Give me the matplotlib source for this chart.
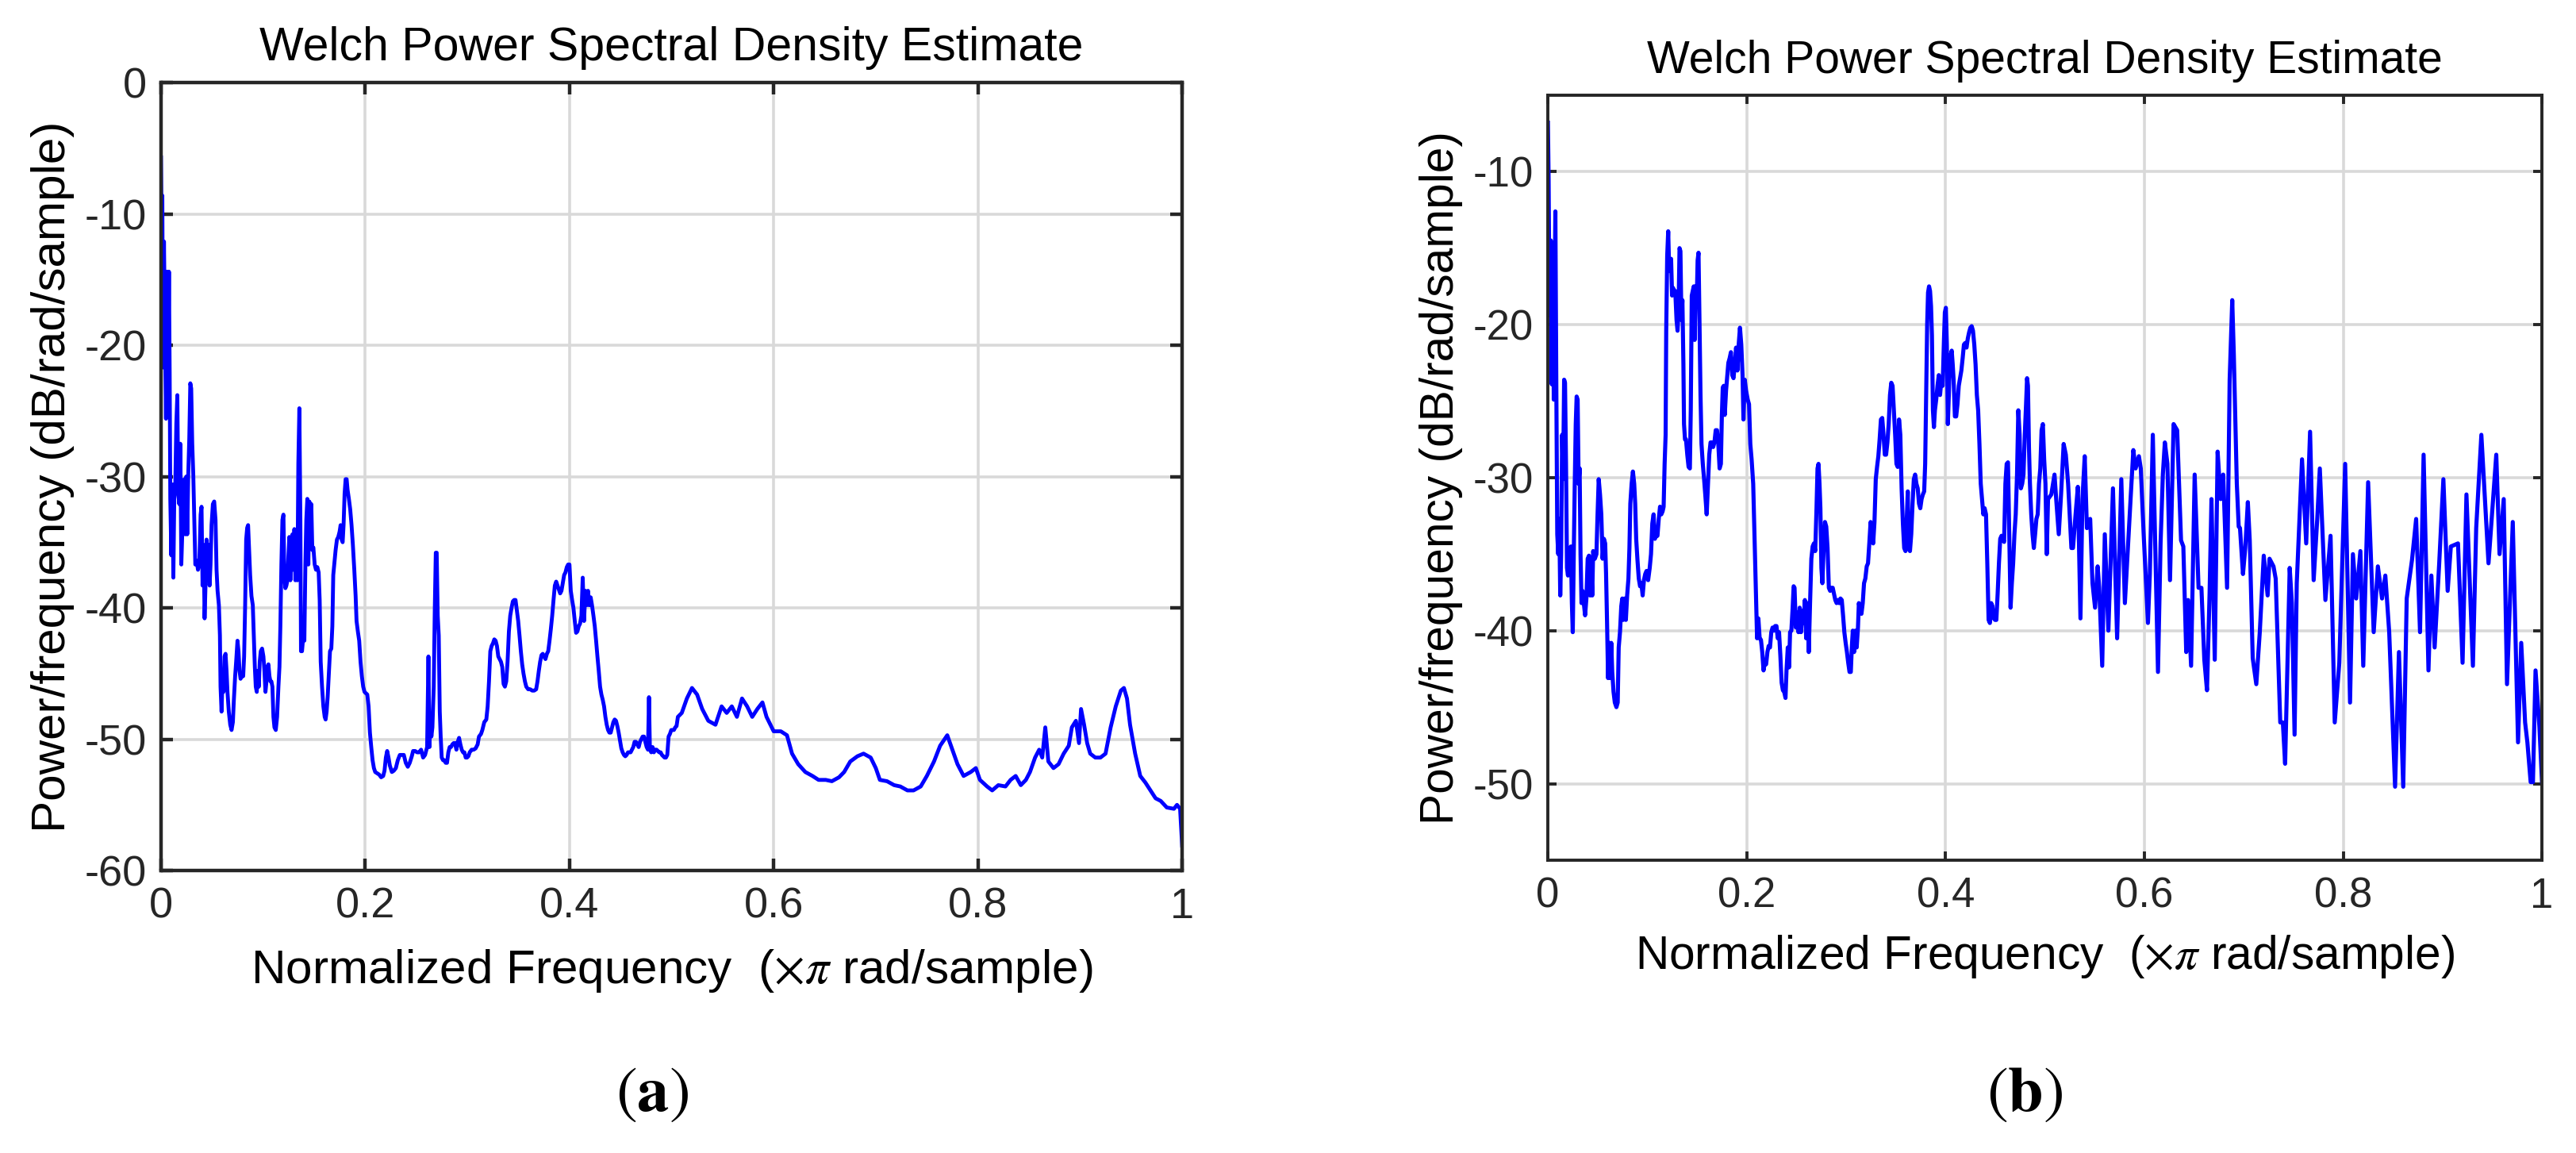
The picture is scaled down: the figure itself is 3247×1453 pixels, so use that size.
import matplotlib
matplotlib.use("Agg")
import matplotlib.pyplot as plt

plt.rcParams["font.family"] = ["Liberation Sans", "DejaVu Sans"]
plt.rcParams["mathtext.fontset"] = "stix"
plt.rcParams["axes.unicode_minus"] = False

# -----------------------------
# Data (normalized freq, dB/rad/sample)
# -----------------------------
trace_a = [
    (0.0000, -5.7), (0.0007, -12.1), (0.0013, -8.6), (0.0020, -21.7), (0.0029, -12.1), (0.0039, -19.0),
    (0.0049, -25.6), (0.0059, -14.4), (0.0068, -23.6), (0.0078, -14.4), (0.0085, -22.1), (0.0091, -31.7),
    (0.0101, -36.0), (0.0111, -30.6), (0.0121, -37.7), (0.0130, -31.7), (0.0140, -30.6), (0.0150, -26.0),
    (0.0160, -23.8), (0.0169, -31.3), (0.0179, -32.1), (0.0189, -27.5), (0.0199, -36.7), (0.0208, -34.4),
    (0.0218, -31.3), (0.0228, -30.2), (0.0238, -34.4), (0.0248, -30.0), (0.0257, -34.4), (0.0267, -29.8),
    (0.0277, -27.1), (0.0287, -22.9), (0.0296, -23.3), (0.0306, -27.5), (0.0316, -29.8), (0.0326, -33.3),
    (0.0336, -36.7), (0.0349, -36.4), (0.0362, -37.1), (0.0375, -36.7), (0.0388, -32.9), (0.0397, -32.3),
    (0.0407, -38.3), (0.0417, -35.2), (0.0427, -40.8), (0.0436, -38.3), (0.0446, -34.8), (0.0456, -37.9),
    (0.0466, -35.2), (0.0476, -38.3), (0.0485, -36.7), (0.0495, -33.7), (0.0508, -32.1), (0.0521, -31.9),
    (0.0534, -33.3), (0.0544, -37.1), (0.0554, -38.7), (0.0567, -39.8), (0.0577, -42.1), (0.0583, -46.0),
    (0.0593, -47.9), (0.0603, -45.2), (0.0612, -46.4), (0.0622, -43.7), (0.0632, -43.5), (0.0642, -44.8),
    (0.0651, -46.4), (0.0664, -47.9), (0.0678, -48.9), (0.0691, -49.3), (0.0704, -48.7), (0.0713, -47.1),
    (0.0726, -45.2), (0.0736, -44.1), (0.0749, -42.5), (0.0759, -43.3), (0.0769, -44.8), (0.0779, -45.4),
    (0.0792, -45.2), (0.0805, -45.2), (0.0814, -43.7), (0.0824, -39.8), (0.0834, -34.8), (0.0844, -33.9),
    (0.0853, -33.7), (0.0863, -35.6), (0.0873, -37.5), (0.0886, -39.1), (0.0899, -39.8), (0.0909, -42.1),
    (0.0919, -44.5), (0.0928, -46.0), (0.0938, -46.4), (0.0948, -44.8), (0.0958, -46.0), (0.0967, -44.1),
    (0.0977, -43.3), (0.0990, -43.1), (0.1003, -43.7), (0.1013, -44.8), (0.1023, -46.4), (0.1033, -45.6),
    (0.1042, -44.5), (0.1052, -44.3), (0.1062, -45.2), (0.1072, -45.6), (0.1081, -45.6), (0.1091, -46.0),
    (0.1101, -48.3), (0.1111, -49.1), (0.1124, -49.3), (0.1137, -48.3), (0.1150, -46.0), (0.1160, -44.5),
    (0.1169, -41.4), (0.1179, -36.7), (0.1189, -33.3), (0.1199, -32.9), (0.1208, -37.5), (0.1218, -38.5),
    (0.1228, -38.3), (0.1238, -37.9), (0.1248, -36.0), (0.1257, -34.6), (0.1267, -37.9), (0.1277, -35.2),
    (0.1287, -34.4), (0.1296, -37.1), (0.1306, -34.0), (0.1316, -37.9), (0.1326, -34.4), (0.1336, -37.9),
    (0.1345, -29.0), (0.1355, -24.8), (0.1365, -33.3), (0.1371, -43.3), (0.1381, -43.3), (0.1394, -42.1),
    (0.1404, -42.5), (0.1414, -36.7), (0.1423, -33.3), (0.1433, -31.7), (0.1443, -36.7), (0.1453, -31.9),
    (0.1463, -34.4), (0.1472, -32.1), (0.1482, -35.6), (0.1492, -35.4), (0.1505, -36.7), (0.1518, -37.1),
    (0.1531, -36.9), (0.1544, -37.3), (0.1554, -39.4), (0.1564, -44.1), (0.1577, -46.0), (0.1590, -47.5),
    (0.1603, -48.3), (0.1612, -48.5), (0.1622, -47.9), (0.1632, -46.8), (0.1645, -44.8), (0.1655, -43.3),
    (0.1668, -43.1), (0.1678, -41.4), (0.1687, -37.5), (0.1697, -36.7), (0.1710, -35.6), (0.1723, -34.8),
    (0.1736, -34.6), (0.1749, -34.2), (0.1759, -33.7), (0.1769, -34.8), (0.1779, -35.0), (0.1788, -33.7),
    (0.1798, -31.3), (0.1808, -30.2), (0.1818, -30.2), (0.1827, -31.0), (0.1840, -31.7), (0.1853, -32.5),
    (0.1866, -33.7), (0.1879, -35.2), (0.1893, -37.1), (0.1906, -39.1), (0.1915, -41.0), (0.1928, -41.8),
    (0.1941, -42.5), (0.1954, -44.1), (0.1967, -45.2), (0.1980, -46.0), (0.1993, -46.4), (0.2007, -46.5),
    (0.2020, -46.6), (0.2033, -47.5), (0.2046, -49.5), (0.2059, -50.6), (0.2072, -51.6), (0.2085, -52.2),
    (0.2098, -52.5), (0.2117, -52.6), (0.2137, -52.7), (0.2156, -52.9), (0.2176, -52.8), (0.2189, -52.4),
    (0.2202, -51.4), (0.2215, -50.9), (0.2228, -51.4), (0.2241, -52.0), (0.2261, -52.5), (0.2280, -52.4),
    (0.2300, -52.2), (0.2319, -51.6), (0.2339, -51.2), (0.2358, -51.2), (0.2378, -51.2), (0.2397, -51.8),
    (0.2417, -52.1), (0.2436, -51.8), (0.2456, -51.3), (0.2469, -50.9), (0.2489, -50.9), (0.2508, -51.0),
    (0.2528, -51.0), (0.2547, -50.8), (0.2567, -51.4), (0.2586, -51.2), (0.2606, -50.6), (0.2619, -43.7),
    (0.2629, -50.6), (0.2638, -48.3), (0.2648, -49.8), (0.2658, -49.1), (0.2671, -46.0), (0.2681, -40.2),
    (0.2691, -35.8), (0.2700, -35.8), (0.2710, -40.6), (0.2720, -42.1), (0.2730, -47.9), (0.2739, -49.8),
    (0.2749, -51.4), (0.2762, -51.6), (0.2775, -51.6), (0.2788, -51.8), (0.2801, -51.8), (0.2814, -51.0),
    (0.2827, -50.6), (0.2840, -50.6), (0.2853, -50.4), (0.2866, -50.3), (0.2879, -50.3), (0.2893, -50.8),
    (0.2906, -50.2), (0.2919, -49.9), (0.2932, -50.4), (0.2945, -50.8), (0.2958, -51.0), (0.2971, -51.0),
    (0.2984, -51.4), (0.2997, -51.4), (0.3010, -51.3), (0.3023, -51.0), (0.3042, -50.8), (0.3062, -50.8),
    (0.3081, -50.7), (0.3101, -50.4), (0.3114, -49.8), (0.3134, -49.6), (0.3147, -49.3), (0.3166, -48.7),
    (0.3186, -48.5), (0.3199, -47.5), (0.3212, -45.6), (0.3225, -43.3), (0.3238, -42.9), (0.3251, -42.7),
    (0.3264, -42.4), (0.3277, -42.5), (0.3290, -42.9), (0.3303, -43.7), (0.3316, -43.9), (0.3329, -44.1),
    (0.3342, -44.5), (0.3355, -45.8), (0.3368, -46.0), (0.3381, -45.6), (0.3394, -44.1), (0.3407, -41.8),
    (0.3420, -40.6), (0.3433, -40.0), (0.3446, -39.5), (0.3459, -39.4), (0.3472, -39.4), (0.3485, -40.2),
    (0.3498, -41.0), (0.3511, -42.1), (0.3524, -43.3), (0.3537, -44.3), (0.3550, -45.0), (0.3564, -45.6),
    (0.3577, -46.0), (0.3596, -46.2), (0.3616, -46.2), (0.3635, -46.3), (0.3655, -46.3), (0.3674, -46.2),
    (0.3687, -45.6), (0.3700, -44.8), (0.3713, -44.1), (0.3726, -43.6), (0.3739, -43.5), (0.3752, -43.7),
    (0.3765, -43.9), (0.3779, -43.5), (0.3792, -43.3), (0.3805, -42.5), (0.3818, -41.6), (0.3831, -40.6),
    (0.3844, -39.4), (0.3857, -38.3), (0.3870, -38.0), (0.3883, -38.3), (0.3896, -38.6), (0.3909, -38.9),
    (0.3922, -38.7), (0.3935, -38.1), (0.3948, -37.5), (0.3961, -37.3), (0.3974, -36.9), (0.3987, -36.7),
    (0.4000, -36.7), (0.4013, -38.7), (0.4026, -39.4), (0.4039, -40.0), (0.4052, -41.0), (0.4065, -41.9),
    (0.4078, -41.8), (0.4091, -41.4), (0.4104, -41.2), (0.4117, -40.6), (0.4130, -37.7), (0.4143, -41.0),
    (0.4156, -38.7), (0.4169, -39.8), (0.4182, -38.7), (0.4195, -39.8), (0.4208, -39.2), (0.4221, -39.8),
    (0.4235, -40.6), (0.4248, -41.4), (0.4261, -42.5), (0.4274, -43.7), (0.4287, -44.8), (0.4300, -46.0),
    (0.4313, -46.6), (0.4326, -47.0), (0.4339, -47.5), (0.4352, -48.3), (0.4365, -48.9), (0.4378, -49.3),
    (0.4391, -49.5), (0.4404, -49.5), (0.4417, -49.1), (0.4430, -48.7), (0.4443, -48.5), (0.4456, -48.6),
    (0.4469, -49.0), (0.4482, -49.5), (0.4495, -50.1), (0.4508, -50.7), (0.4521, -51.0), (0.4534, -51.2),
    (0.4547, -51.3), (0.4560, -51.2), (0.4573, -51.0), (0.4586, -51.0), (0.4599, -51.0), (0.4612, -50.8),
    (0.4625, -50.6), (0.4638, -50.2), (0.4651, -50.2), (0.4664, -50.4), (0.4678, -50.6), (0.4691, -50.2),
    (0.4704, -50.0), (0.4717, -49.8), (0.4730, -49.8), (0.4743, -50.2), (0.4756, -50.6), (0.4769, -50.8),
    (0.4779, -46.8), (0.4788, -50.8), (0.4801, -51.0), (0.4814, -50.6), (0.4827, -51.0), (0.4840, -50.8),
    (0.4853, -50.8), (0.4866, -50.9), (0.4879, -51.0), (0.4893, -51.0), (0.4906, -51.2), (0.4919, -51.3),
    (0.4932, -51.4), (0.4945, -51.4), (0.4958, -51.2), (0.4971, -49.8), (0.4984, -49.6), (0.4997, -49.3),
    (0.5010, -49.3), (0.5023, -49.3), (0.5036, -49.1), (0.5049, -49.0), (0.5062, -48.3), (0.510, -48.0),
    (0.515, -46.9), (0.520, -46.1), (0.525, -46.6), (0.530, -47.7), (0.536, -48.6), (0.543, -48.9),
    (0.549, -47.5), (0.554, -48.0), (0.559, -47.5), (0.564, -48.3), (0.569, -46.9), (0.574, -47.5),
    (0.579, -48.3), (0.584, -47.7), (0.589, -47.2), (0.593, -48.3), (0.600, -49.4), (0.607, -49.4),
    (0.613, -49.7), (0.618, -51.1), (0.624, -51.9), (0.631, -52.5), (0.638, -52.8), (0.644, -53.1),
    (0.651, -53.1), (0.657, -53.2), (0.664, -52.9), (0.669, -52.5), (0.675, -51.7), (0.682, -51.3),
    (0.688, -51.1), (0.695, -51.4), (0.700, -52.2), (0.704, -53.1), (0.711, -53.2), (0.718, -53.5),
    (0.724, -53.6), (0.731, -53.9), (0.737, -53.9), (0.744, -53.6), (0.750, -52.8), (0.757, -51.7),
    (0.763, -50.5), (0.770, -49.7), (0.775, -50.8), (0.780, -51.9), (0.786, -52.8), (0.793, -52.5),
    (0.798, -52.2), (0.802, -53.1), (0.809, -53.6), (0.814, -53.9), (0.820, -53.5), (0.827, -53.6),
    (0.832, -53.1), (0.837, -52.8), (0.842, -53.5), (0.847, -53.1), (0.851, -52.5), (0.856, -51.4),
    (0.860, -50.8), (0.863, -51.4), (0.866, -49.1), (0.869, -51.7), (0.874, -52.2), (0.879, -51.9),
    (0.884, -51.1), (0.889, -50.5), (0.892, -49.1), (0.896, -48.6), (0.899, -50.3), (0.901, -47.7),
    (0.904, -48.9), (0.907, -50.3), (0.910, -51.1), (0.915, -51.4), (0.920, -51.4), (0.925, -51.1),
    (0.930, -49.1), (0.935, -47.5), (0.940, -46.3), (0.943, -46.1), (0.946, -46.9), (0.949, -48.9),
    (0.954, -51.1), (0.959, -52.8), (0.964, -53.3), (0.969, -53.9), (0.974, -54.5), (0.979, -54.7),
    (0.985, -55.2), (0.992, -55.3), (0.995, -55.0), (0.998, -55.3), (1.000, -58.1),
]

trace_b = [
    (0.0000, -6.8), (0.0007, -10.6), (0.0016, -19.4), (0.0029, -14.5), (0.0039, -23.9), (0.0049, -14.9),
    (0.0059, -24.9), (0.0068, -17.5), (0.0075, -12.6), (0.0085, -24.6), (0.0094, -33.7), (0.0104, -35.0),
    (0.0114, -32.7), (0.0124, -37.7), (0.0133, -35.0), (0.0143, -27.2), (0.0153, -30.1), (0.0163, -23.6),
    (0.0172, -23.8), (0.0182, -29.1), (0.0192, -35.9), (0.0202, -36.4), (0.0211, -34.6), (0.0221, -36.3),
    (0.0231, -34.5), (0.0241, -38.2), (0.0250, -40.1), (0.0260, -35.0), (0.0270, -30.4), (0.0280, -26.5),
    (0.0289, -24.7), (0.0299, -24.9), (0.0309, -30.4), (0.0319, -29.4), (0.0328, -35.0), (0.0338, -38.2),
    (0.0348, -37.4), (0.0361, -38.2), (0.0374, -39.0), (0.0387, -37.9), (0.0400, -35.3), (0.0413, -35.1),
    (0.0423, -37.7), (0.0433, -35.3), (0.0446, -37.7), (0.0455, -34.8), (0.0472, -35.3), (0.0488, -35.0),
    (0.0498, -32.7), (0.0511, -30.1), (0.0524, -31.1), (0.0537, -32.4), (0.0550, -35.3), (0.0563, -34.0),
    (0.0576, -34.3), (0.0585, -36.3), (0.0595, -39.5), (0.0605, -43.1), (0.0615, -40.8), (0.0628, -43.1),
    (0.0637, -40.8), (0.0647, -42.7), (0.0660, -44.0), (0.0673, -44.7), (0.0689, -45.0), (0.0702, -44.7),
    (0.0712, -41.1), (0.0725, -40.1), (0.0738, -38.4), (0.0748, -37.9), (0.0758, -39.3), (0.0771, -37.9),
    (0.0784, -39.3), (0.0797, -37.7), (0.0810, -36.6), (0.0820, -34.6), (0.0829, -31.7), (0.0842, -30.4),
    (0.0855, -29.6), (0.0868, -30.4), (0.0878, -31.7), (0.0888, -34.0), (0.0901, -35.4), (0.0914, -36.6),
    (0.0927, -37.1), (0.0940, -36.9), (0.0953, -37.7), (0.0966, -36.7), (0.0979, -36.3), (0.0992, -36.1),
    (0.1008, -36.7), (0.1024, -35.9), (0.1037, -35.0), (0.1050, -33.0), (0.1063, -32.4), (0.1076, -34.0),
    (0.1089, -33.8), (0.1102, -33.8), (0.1115, -32.7), (0.1128, -31.9), (0.1141, -32.4), (0.1154, -32.2),
    (0.1164, -31.9), (0.1174, -29.1), (0.1184, -27.2), (0.1190, -20.4), (0.1200, -15.5), (0.1210, -13.9),
    (0.1220, -16.5), (0.1229, -15.8), (0.1239, -15.7), (0.1249, -18.1), (0.1259, -17.6), (0.1268, -17.8),
    (0.1281, -17.8), (0.1294, -19.7), (0.1304, -20.4), (0.1314, -19.1), (0.1324, -15.0), (0.1333, -15.2),
    (0.1343, -19.7), (0.1353, -18.4), (0.1363, -22.6), (0.1369, -26.5), (0.1379, -27.5), (0.1389, -27.5),
    (0.1402, -28.5), (0.1415, -29.3), (0.1428, -29.4), (0.1437, -25.6), (0.1447, -18.1), (0.1457, -17.8),
    (0.1467, -17.5), (0.1476, -21.0), (0.1486, -17.5), (0.1496, -18.8), (0.1506, -15.8), (0.1515, -15.3),
    (0.1525, -20.0), (0.1535, -24.6), (0.1545, -27.8), (0.1558, -29.1), (0.1571, -30.1), (0.1584, -31.2),
    (0.1597, -32.4), (0.1610, -30.4), (0.1623, -28.5), (0.1636, -27.7), (0.1649, -27.7), (0.1662, -28.0),
    (0.1675, -27.7), (0.1688, -26.9), (0.1701, -26.9), (0.1714, -27.8), (0.1727, -29.4), (0.1740, -29.1),
    (0.1750, -25.9), (0.1759, -24.1), (0.1769, -24.0), (0.1779, -25.9), (0.1792, -24.3), (0.1805, -23.3),
    (0.1815, -22.5), (0.1828, -22.2), (0.1841, -21.8), (0.1854, -23.3), (0.1867, -23.5), (0.1880, -22.6),
    (0.1893, -21.5), (0.1906, -23.0), (0.1919, -21.3), (0.1932, -20.2), (0.1945, -21.3), (0.1958, -23.3),
    (0.1967, -26.2), (0.1980, -23.6), (0.1993, -24.3), (0.2010, -24.9), (0.2023, -25.2), (0.2036, -27.8),
    (0.2049, -28.8), (0.2065, -30.4), (0.2078, -33.7), (0.2091, -36.9), (0.2104, -40.5), (0.2117, -39.2),
    (0.2130, -40.5), (0.2143, -40.6), (0.2156, -41.4), (0.2169, -42.6), (0.2182, -42.1), (0.2195, -42.2),
    (0.2208, -41.4), (0.2221, -41.0), (0.2234, -41.1), (0.2247, -40.1), (0.2260, -39.8), (0.2273, -40.0),
    (0.2286, -39.7), (0.2299, -39.7), (0.2312, -40.5), (0.2325, -40.1), (0.2338, -41.6), (0.2351, -43.4),
    (0.2364, -43.9), (0.2377, -44.0), (0.2390, -44.4), (0.2400, -42.6), (0.2413, -41.1), (0.2426, -42.4),
    (0.2436, -40.1), (0.2449, -40.0), (0.2462, -38.5), (0.2472, -37.1), (0.2481, -37.2), (0.2494, -39.8),
    (0.2507, -38.8), (0.2520, -40.1), (0.2533, -38.5), (0.2546, -40.1), (0.2559, -38.7), (0.2572, -39.5),
    (0.2585, -38.0), (0.2598, -40.5), (0.2611, -38.2), (0.2624, -41.4), (0.2637, -38.2), (0.2650, -35.3),
    (0.2663, -34.5), (0.2676, -34.3), (0.2689, -34.8), (0.2702, -32.0), (0.2712, -29.4), (0.2722, -29.1),
    (0.2732, -30.4), (0.2741, -32.0), (0.2751, -35.9), (0.2761, -36.9), (0.2774, -34.6), (0.2787, -32.9),
    (0.2800, -33.2), (0.2813, -34.6), (0.2826, -37.2), (0.2839, -37.4), (0.2852, -37.2), (0.2865, -37.2),
    (0.2878, -37.6), (0.2891, -38.0), (0.2904, -38.2), (0.2917, -38.0), (0.2930, -38.2), (0.2943, -37.9),
    (0.2956, -38.0), (0.2969, -39.0), (0.2982, -40.1), (0.2995, -40.8), (0.3008, -41.4), (0.3021, -42.1),
    (0.3034, -42.7), (0.3047, -42.7), (0.3057, -41.1), (0.3067, -40.0), (0.3080, -41.4), (0.3093, -40.0),
    (0.3106, -41.1), (0.3119, -39.8), (0.3128, -38.2), (0.3141, -38.7), (0.3154, -38.9), (0.3167, -38.2),
    (0.3180, -36.9), (0.3193, -36.6), (0.3207, -35.8), (0.3220, -35.6), (0.3233, -34.3), (0.3246, -32.9),
    (0.3259, -33.8), (0.3272, -34.3), (0.3285, -32.9), (0.3298, -30.1), (0.3311, -29.3), (0.3324, -28.6),
    (0.3337, -27.5), (0.3350, -26.2), (0.3363, -26.1), (0.3376, -27.2), (0.3389, -28.5), (0.3402, -28.5),
    (0.3415, -27.7), (0.3428, -26.5), (0.3441, -24.6), (0.3454, -23.8), (0.3467, -24.0), (0.3480, -25.6),
    (0.3493, -27.2), (0.3506, -29.1), (0.3519, -29.3), (0.3532, -26.2), (0.3545, -27.2), (0.3558, -30.7),
    (0.3571, -33.0), (0.3584, -34.6), (0.3597, -34.8), (0.3610, -32.7), (0.3620, -30.9), (0.3629, -34.6),
    (0.3642, -34.8), (0.3655, -33.7), (0.3668, -31.7), (0.3681, -30.1), (0.3694, -29.8), (0.3707, -30.4),
    (0.3720, -30.7), (0.3733, -31.7), (0.3746, -32.0), (0.3759, -31.4), (0.3772, -31.1), (0.3785, -30.9),
    (0.3795, -29.1), (0.3805, -24.6), (0.3815, -20.0), (0.3824, -17.9), (0.3834, -17.5), (0.3844, -17.8),
    (0.3854, -18.8), (0.3863, -20.7), (0.3873, -25.6), (0.3883, -26.7), (0.3893, -25.6), (0.3906, -24.9),
    (0.3919, -24.0), (0.3932, -23.3), (0.3945, -24.6), (0.3958, -23.6), (0.3971, -24.0), (0.3984, -21.0),
    (0.3993, -19.2), (0.4003, -18.9), (0.4013, -21.3), (0.4023, -26.5), (0.4033, -24.6), (0.4042, -22.6),
    (0.4052, -22.0), (0.4062, -21.7), (0.4072, -22.6), (0.4081, -23.6), (0.4094, -26.0), (0.4107, -26.0),
    (0.4120, -25.2), (0.4133, -24.0), (0.4146, -23.5), (0.4159, -23.0), (0.4172, -22.2), (0.4185, -21.3),
    (0.4198, -21.2), (0.4211, -21.5), (0.4224, -20.9), (0.4237, -20.5), (0.4250, -20.2), (0.4263, -20.1),
    (0.4276, -20.4), (0.4289, -21.3), (0.4302, -22.6), (0.4315, -24.6), (0.4328, -25.6), (0.4341, -27.8),
    (0.4354, -30.4), (0.4367, -31.4), (0.4380, -32.4), (0.4393, -32.0), (0.4407, -32.4), (0.4420, -35.6),
    (0.4433, -39.3), (0.4446, -39.5), (0.4459, -38.2), (0.4472, -38.4), (0.4485, -39.2), (0.4498, -39.3),
    (0.4511, -39.3), (0.4524, -37.6), (0.4537, -35.6), (0.4550, -34.0), (0.4563, -33.8), (0.4576, -34.0),
    (0.4589, -34.2), (0.4602, -30.4), (0.4615, -29.1), (0.4628, -29.0), (0.4641, -33.7), (0.4654, -38.5),
    (0.4667, -36.9), (0.4680, -35.6), (0.4693, -33.7), (0.4706, -32.4), (0.4719, -29.8), (0.4732, -25.6),
    (0.4745, -27.2), (0.4758, -30.7), (0.4771, -30.4), (0.4784, -29.8), (0.4797, -27.2), (0.4810, -25.2),
    (0.4820, -23.5), (0.4829, -24.0), (0.4839, -28.0), (0.4849, -30.4), (0.4862, -32.4), (0.4875, -33.7),
    (0.4888, -34.6), (0.4901, -33.7), (0.4914, -32.7), (0.4927, -32.4), (0.4940, -30.4), (0.4953, -29.4),
    (0.4966, -26.9), (0.4979, -26.5), (0.4992, -28.8), (0.5005, -30.4), (0.5018, -35.0), (0.5031, -31.4),
    (0.5064, -31.1), (0.5096, -29.8), (0.5113, -31.4), (0.5139, -33.7), (0.5162, -31.1), (0.5188, -27.8),
    (0.5210, -28.5), (0.5233, -30.4), (0.5266, -34.6), (0.5282, -34.6), (0.5308, -32.4), (0.5331, -30.6),
    (0.5357, -39.2), (0.5377, -31.4), (0.5400, -28.6), (0.5422, -33.3), (0.5455, -32.7), (0.5478, -36.9),
    (0.5504, -38.5), (0.5530, -35.8), (0.5546, -37.2), (0.5576, -42.3), (0.5602, -33.7), (0.5638, -40.0),
    (0.5684, -30.7), (0.5726, -40.5), (0.5768, -30.1), (0.5804, -38.2), (0.5834, -34.6), (0.5863, -31.2),
    (0.5889, -28.2), (0.5912, -29.4), (0.5945, -28.6), (0.5964, -29.4), (0.5993, -33.7), (0.6036, -39.5),
    (0.6055, -36.3), (0.6085, -27.2), (0.6137, -42.7), (0.6163, -34.3), (0.6186, -29.8), (0.6206, -27.7),
    (0.6232, -29.1), (0.6258, -36.7), (0.6294, -26.5), (0.6330, -26.9), (0.6369, -34.1), (0.6392, -34.5),
    (0.6421, -41.4), (0.6440, -38.0), (0.6470, -42.3), (0.6506, -29.8), (0.6545, -37.2), (0.6574, -37.2),
    (0.6603, -41.9), (0.6630, -43.9), (0.6656, -37.6), (0.6675, -31.4), (0.6708, -41.9), (0.6737, -28.3),
    (0.6767, -31.4), (0.6793, -29.8), (0.6832, -37.2), (0.6858, -23.6), (0.6884, -18.4), (0.6900, -22.0),
    (0.6930, -30.4), (0.6949, -33.2), (0.6962, -33.3), (0.6992, -36.3), (0.7015, -34.6), (0.7041, -31.6),
    (0.7060, -34.1), (0.7090, -41.8), (0.7126, -43.5), (0.7161, -40.1), (0.7201, -35.1), (0.7240, -37.7),
    (0.7259, -35.3), (0.7299, -35.8), (0.7321, -36.6), (0.7367, -46.0), (0.7393, -46.0), (0.7416, -48.7),
    (0.7462, -35.9), (0.7484, -38.2), (0.7511, -46.8), (0.7533, -36.9), (0.7586, -28.8), (0.7628, -34.3),
    (0.7667, -27.0), (0.7703, -36.7), (0.7739, -32.7), (0.7765, -29.4), (0.7821, -38.0), (0.7873, -33.8),
    (0.7915, -46.0), (0.7961, -42.1), (0.8020, -29.1), (0.8069, -44.7), (0.8098, -35.0), (0.8131, -37.9),
    (0.8173, -34.8), (0.8202, -42.3), (0.8251, -30.3), (0.8307, -40.1), (0.8349, -35.8), (0.8391, -37.9),
    (0.8424, -36.4), (0.8463, -40.1), (0.8522, -50.2), (0.8561, -41.4), (0.8604, -50.2), (0.8639, -37.9),
    (0.8692, -35.4), (0.8734, -32.7), (0.8773, -40.1), (0.8809, -28.5), (0.8858, -42.6), (0.8887, -36.4),
    (0.8920, -41.1), (0.8966, -35.6), (0.9008, -30.1), (0.9051, -37.4), (0.9083, -34.5), (0.9155, -34.3),
    (0.9201, -42.1), (0.9240, -31.1), (0.9305, -42.3), (0.9338, -33.3), (0.9390, -27.2), (0.9462, -35.6),
    (0.9540, -28.5), (0.9573, -35.0), (0.9615, -31.4), (0.9648, -43.5), (0.9706, -32.9), (0.9759, -47.3),
    (0.9791, -40.8), (0.9830, -46.0), (0.9853, -47.3), (0.9886, -49.9), (0.9909, -49.9), (0.9935, -42.6),
    (0.9974, -46.3), (1.0000, -49.9),
]

freq_a = [p[0] for p in trace_a]
psd_a = [p[1] for p in trace_a]
freq_b = [p[0] for p in trace_b]
psd_b = [p[1] for p in trace_b]

x_ticks = [0, 0.2, 0.4, 0.6, 0.8, 1]
x_tick_labels = ["0", "0.2", "0.4", "0.6", "0.8", "1"]
y_ticks_a = [-60, -50, -40, -30, -20, -10, 0]
y_ticks_b = [-50, -40, -30, -20, -10]
ylim_a = (-60, 0)
ylim_b = (-55, -5)

title = "Welch Power Spectral Density Estimate"
xlabel = r"Normalized Frequency  ($\times\pi$ rad/sample)"
ylabel = "Power/frequency (dB/rad/sample)"

frame = "#262626"


def draw_panel(ax, freq, psd, ylim, yticks, fs_tick, fs_title, fs_label,
               lw, spine_w, tick_len, xpad):
    ax.plot(freq, psd, color=(0, 0, 1), linewidth=lw, solid_joinstyle="round")
    ax.set_xlim(0, 1)
    ax.set_ylim(*ylim)
    ax.set_xticks(x_ticks)
    ax.set_xticklabels(x_tick_labels)
    ax.set_yticks(yticks)
    ax.set_yticklabels([str(v) for v in yticks])
    ax.grid(True, color="#d9d9d9", linewidth=2.6)
    ax.set_axisbelow(True)
    for sp in ax.spines.values():
        sp.set_color(frame)
        sp.set_linewidth(spine_w)
    ax.tick_params(direction="in", length=tick_len, width=spine_w, color=frame,
                   labelcolor=frame, labelsize=fs_tick, top=True, right=True)
    ax.tick_params(axis="x", pad=15)
    ax.tick_params(axis="y", pad=13)
    ax.set_title(title, fontsize=fs_title, color="black", pad=20)
    ax.set_xlabel(xlabel, fontsize=fs_label, color="black", labelpad=xpad)
    ax.set_ylabel(ylabel, fontsize=fs_label, color="black", labelpad=9)


fig = plt.figure(figsize=(32.47, 14.53), dpi=100)
ax_a = fig.add_axes([0.0625, 0.245, 0.3964, 0.6834])
ax_b = fig.add_axes([0.6009, 0.254, 0.3859, 0.6635])

draw_panel(ax_a, freq_a, psd_a, ylim_a, y_ticks_a, 39, 42.5, 43.4, 3.5, 3.2, 11, 19)
draw_panel(ax_b, freq_b, psd_b, ylim_b, y_ticks_b, 38, 41, 42.2, 3.7, 2.8, 8, 15)

fig.text(0.253, 0.051, r"$(\mathbf{a})$", fontsize=58, ha="center", va="center")
fig.text(0.786, 0.051, r"$(\mathbf{b})$", fontsize=58, ha="center", va="center")

fig.savefig("out.png", dpi=100, facecolor="white")
